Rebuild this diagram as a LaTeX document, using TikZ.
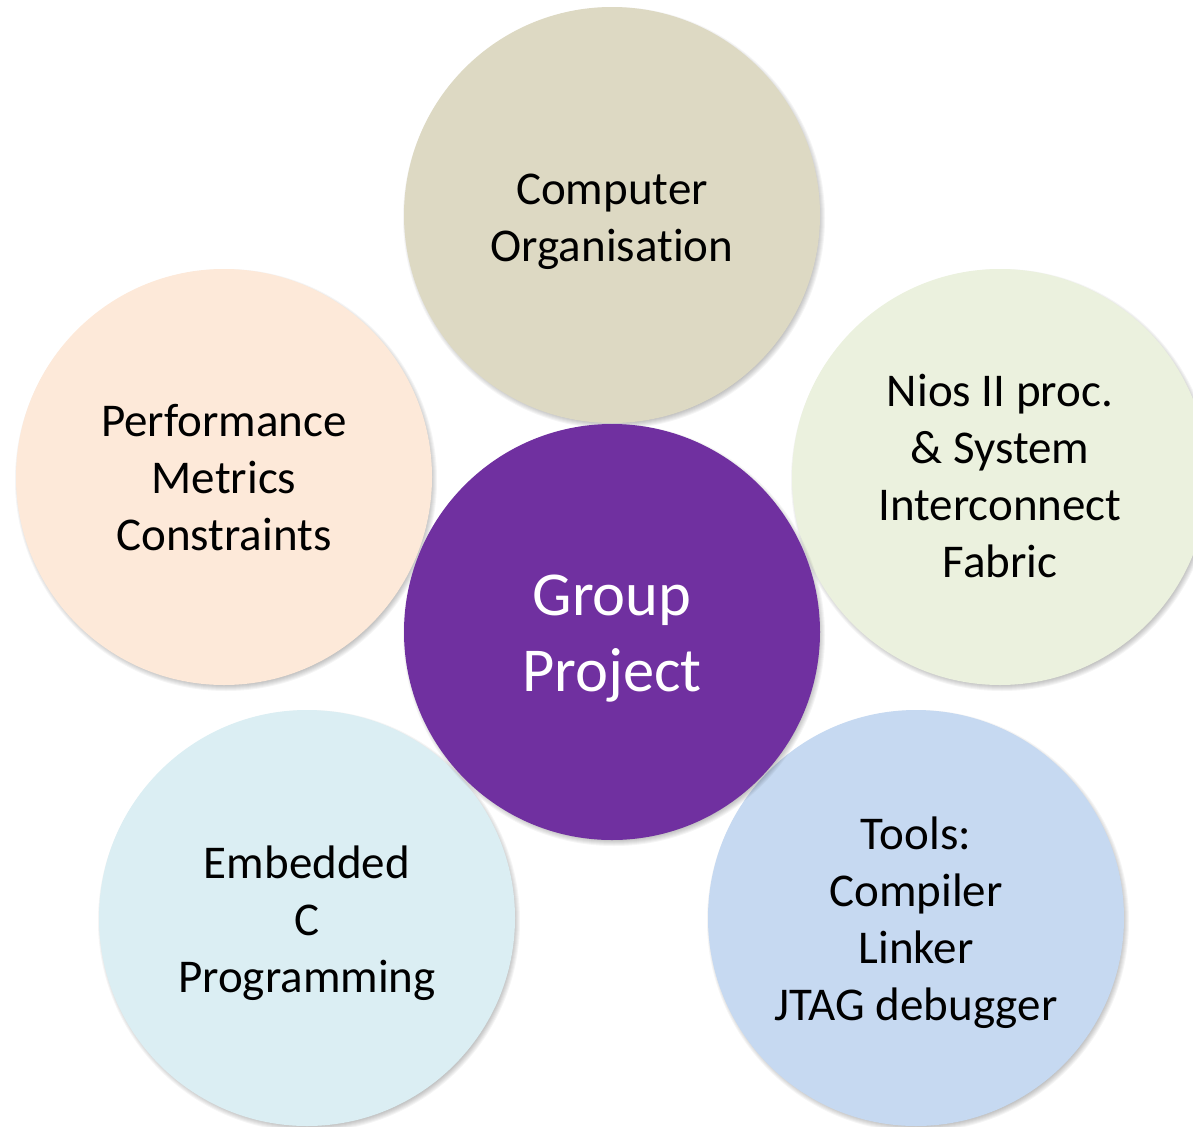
\documentclass[tikz,border=0pt]{standalone}
\usepackage{fontspec}
\setmainfont{Carlito}[Ligatures=NoCommon]
\usetikzlibrary{calc}
\definecolor{cTan}{HTML}{DDD9C3}
\definecolor{cPeach}{HTML}{FDE9D9}
\definecolor{cGreen}{HTML}{EBF1DE}
\definecolor{cAqua}{HTML}{DBEEF3}
\definecolor{cBlue}{HTML}{C6D9F1}
\definecolor{cPurple}{HTML}{7030A0}
\newcommand\softshadow[1]{%
  \foreach \k in {0,...,7}{\fill[black, opacity=0.04] ($(#1)+(2,3)$) circle[radius=204+\k];}%
}
\begin{document}
\begin{tikzpicture}[x=1bp,y=-1bp,
  disc/.style={circle, inner sep=0pt, minimum size=416bp},
  txt/.style={align=center, inner sep=0pt, font=\fontsize{47bp}{57bp}\selectfont, text=black},
  hubtxt/.style={txt, text=white, font=\fontsize{62.5bp}{76bp}\selectfont}]
\useasboundingbox (0,0) rectangle (1193,1127);
\coordinate (pco) at (612,215);
\coordinate (ppm) at (224,477);
\coordinate (pni) at (1000,477);
\coordinate (pec) at (307,918);
\coordinate (ptl) at (916,918);
\coordinate (pgp) at (612,632);
\softshadow{pco}
\node[disc, fill=cTan] (co) at (pco) {};
\node[txt] (coT) at ($(pco)+(0,7)$) {Computer\\Organisation};
\softshadow{ppm}
\node[disc, fill=cPeach] (pm) at (ppm) {};
\node[txt] (pmT) at ($(ppm)+(0,1)$) {Performance\\Metrics\\Constraints};
\softshadow{pni}
\node[disc, fill=cGreen] (ni) at (pni) {};
\node[txt] (niT) at ($(pni)+(0,-1)$) {Nios II proc.\\\& System\\Interconnect\\Fabric};
\softshadow{pec}
\node[disc, fill=cAqua] (ec) at (pec) {};
\node[txt] (ecT) at ($(pec)+(0,5)$) {Embedded\\C\\Programming};
\softshadow{ptl}
\node[disc, fill=cBlue] (tl) at (ptl) {};
\node[txt] (tlT) at ($(ptl)+(0,5)$) {Tools:\\Compiler\\Linker\\JTAG debugger};
\softshadow{pgp}
\node[disc, fill=cPurple] (gp) at (pgp) {};
\node[hubtxt] (gpT) at ($(pgp)+(0,7)$) {Group\\Project};
\end{tikzpicture}
\end{document}
